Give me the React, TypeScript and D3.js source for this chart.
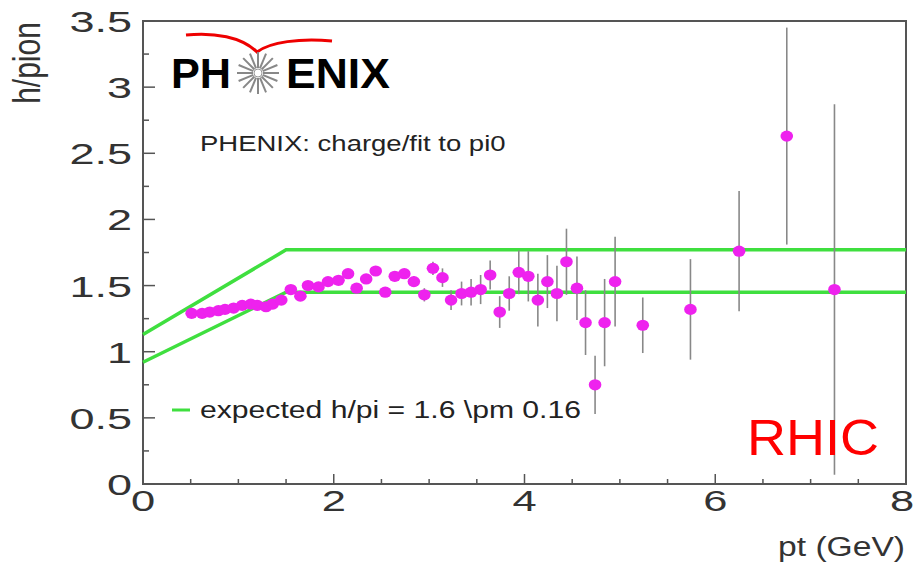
import React from "react";
import * as d3 from "d3";

const ptValues = [0.51,0.62,0.70,0.79,0.86,0.95,1.04,1.13,1.20,1.29,1.36,1.45,1.55,1.65,1.73,1.84,1.94,2.05,2.15,2.24,2.34,2.44,2.54,2.64,2.74,2.84,2.95,3.04,3.14,3.23,3.34,3.44,3.54,3.64,3.74,3.84,3.94,4.04,4.14,4.24,4.34,4.44,4.55,4.64,4.74,4.84,4.95,5.24,5.74,6.25,6.75,7.25];
const ratioValues = [1.29,1.29,1.30,1.31,1.32,1.33,1.35,1.36,1.35,1.34,1.36,1.39,1.47,1.42,1.50,1.49,1.53,1.54,1.59,1.48,1.55,1.61,1.45,1.57,1.59,1.53,1.43,1.63,1.56,1.39,1.44,1.45,1.47,1.58,1.30,1.44,1.60,1.57,1.39,1.53,1.44,1.68,1.48,1.22,0.75,1.22,1.53,1.20,1.32,1.76,2.63,1.47];
const ratioErrors = [0.02,0.02,0.02,0.02,0.02,0.02,0.02,0.02,0.02,0.02,0.02,0.02,0.02,0.02,0.02,0.02,0.02,0.02,0.02,0.02,0.02,0.02,0.03,0.03,0.03,0.04,0.05,0.05,0.07,0.075,0.09,0.10,0.11,0.11,0.12,0.13,0.165,0.19,0.20,0.20,0.21,0.25,0.24,0.245,0.22,0.33,0.34,0.21,0.38,0.455,0.82,1.4];

const bandUpperX = [0, 1.5, 8];
const bandUpperY = [1.13, 1.77, 1.77];
const bandLowerX = [0, 1.5, 8];
const bandLowerY = [0.92, 1.45, 1.45];

const xTickLabels = ["0", "2", "4", "6", "8"];
const yTickLabels = ["0", "0.5", "1", "1.5", "2", "2.5", "3", "3.5"];

const W = 916, H = 563;
const L = 143, R = 906, T = 21, B = 484;
const SX = 1.28;
const TSX = 1.45;
const FONT = "'Liberation Sans', Arial, Helvetica, sans-serif";

export default function App() {
  const x = d3.scaleLinear().domain([0, 8]).range([L, R]);
  const y = d3.scaleLinear().domain([0, 3.5]).range([B, T]);
  const line = d3.line<[number, number]>().x(d => x(d[0])).y(d => y(d[1]));
  const upper: [number, number][] = bandUpperX.map((v, i) => [v, bandUpperY[i]]);
  const lower: [number, number][] = bandLowerX.map((v, i) => [v, bandLowerY[i]]);

  const xMinor = d3.range(0, 8.001, 0.5);
  const yMinor = d3.range(0, 3.501, 0.25);

  const rays = d3.range(16).map(i => (i * Math.PI * 2) / 16);
  const cx = 258, cy = 73;

  return (
    <div style={{ position: "absolute", left: 0, top: 0, width: W, height: H, background: "#fff" }}>
      <svg width={W} height={H} style={{ display: "block" }}>
        <rect x={0} y={0} width={W} height={H} fill="#fff" />
        {/* frame */}
        <rect x={L} y={T} width={R - L} height={B - T} fill="none" stroke="#555" strokeWidth={2} />
        {/* y ticks */}
        {yMinor.map((v, i) => (
          <line key={"yt" + i} x1={L} x2={L + (i % 2 === 0 ? 12 : 6)} y1={y(v)} y2={y(v)} stroke="#555" strokeWidth={1.5} />
        ))}
        {xMinor.map((v, i) => (
          <line key={"xt" + i} x1={x(v)} x2={x(v)} y1={B} y2={B - (i % 4 === 0 ? 10 : 5)} stroke="#555" strokeWidth={1.5} />
        ))}
        {/* tick labels */}
        {yTickLabels.map((t, i) => (
          <text key={"yl" + i} transform={`translate(132,${y(+t) + 11}) scale(1.5,1)`} textAnchor="end" fontFamily={FONT} fontSize={30} fill="#333">{t}</text>
        ))}
        {xTickLabels.map((t, i) => (
          <text key={"xl" + i} transform={`translate(${Math.min(x(+t), 902)},${511}) scale(${TSX},1)`} textAnchor="middle" fontFamily={FONT} fontSize={30} fill="#333">{t}</text>
        ))}
        <text transform={`translate(905,556) scale(1.2,1)`} textAnchor="end" fontFamily={FONT} fontSize={28} fill="#333">pt (GeV)</text>
        <text transform={`translate(40,63) scale(${SX},1) rotate(-90)`} textAnchor="middle" fontFamily={FONT} fontSize={30} fill="#333">h/pion</text>

        {/* band */}
        <path d={line(upper) || ""} fill="none" stroke="#3fdf3f" strokeWidth={3.5} />
        <path d={line(lower) || ""} fill="none" stroke="#3fdf3f" strokeWidth={3.5} />

        {/* error bars */}
        {ptValues.map((p, i) => (
          <line key={"e" + i} x1={x(p)} x2={x(p)} y1={y(ratioValues[i] - ratioErrors[i])} y2={y(ratioValues[i] + ratioErrors[i])} stroke="#888" strokeWidth={1.6} />
        ))}
        {/* points */}
        {ptValues.map((p, i) => (
          <ellipse key={"p" + i} cx={x(p)} cy={y(ratioValues[i])} rx={6.3} ry={5.6} fill="#ee22ee" />
        ))}

        {/* texts */}
        <text transform={`translate(200,151) scale(1.25,1)`} fontFamily={FONT} fontSize={22} fill="#222">PHENIX: charge/fit to pi0</text>
        <line x1={172} x2={190} y1={410} y2={410} stroke="#3fdf3f" strokeWidth={3} />
        <text transform={`translate(200,418) scale(1.31,1)`} fontFamily={FONT} fontSize={23} fill="#222">expected h/pi = 1.6 \pm 0.16</text>

        {/* logo */}
        <path d="M186,35 C214,32 242,37 257,52 C270,42 300,38 332,41" fill="none" stroke="#e00" strokeWidth={3} />
        <text transform="translate(171,88) scale(1.03,1)" fontFamily={FONT} fontWeight="bold" fontSize={42} fill="#000">PH</text>
        <text transform="translate(286,88) scale(1.06,1)" fontFamily={FONT} fontWeight="bold" fontSize={42} fill="#000">ENIX</text>
        {rays.map((a, i) => (
          <line key={"r" + i} x1={cx + 5 * Math.cos(a)} y1={cy + 5 * Math.sin(a)} x2={cx + 21 * Math.cos(a)} y2={cy + 21 * Math.sin(a)} stroke="#888" strokeWidth={2} />
        ))}
        <circle cx={cx} cy={cy} r={4} fill="#fff" stroke="#999" strokeWidth={1} />

        <text transform="translate(747,455) scale(1.08,1)" fontFamily={FONT} fontSize={50} fill="#f00">RHIC</text>
      </svg>
    </div>
  );
}
